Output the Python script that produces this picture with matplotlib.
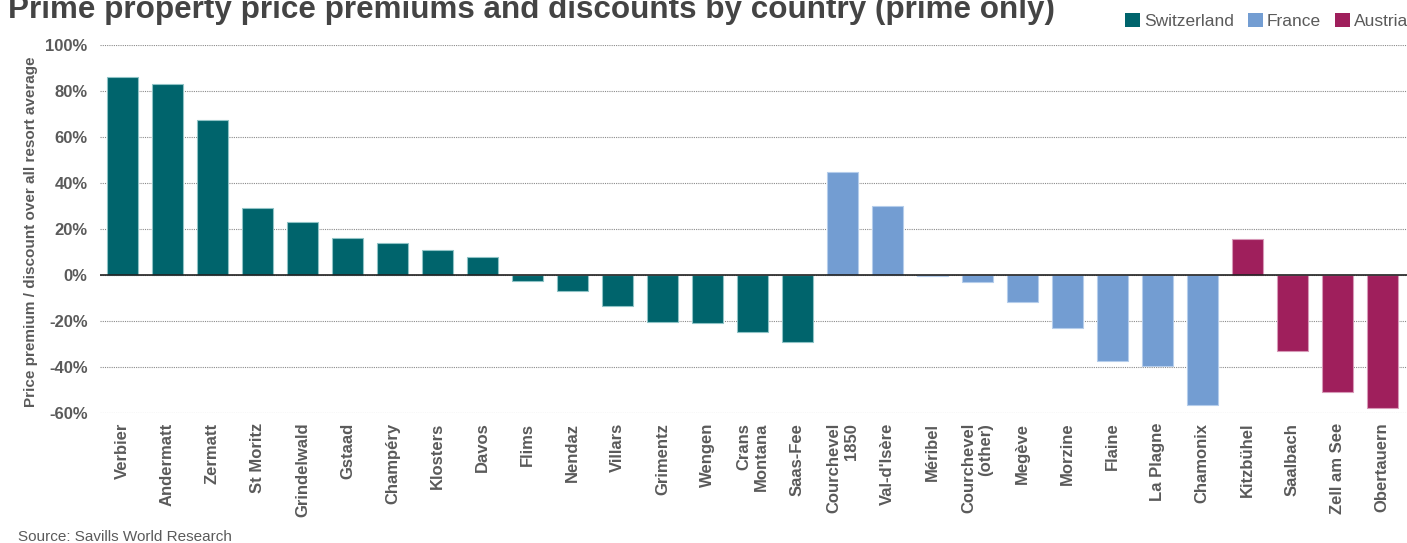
import matplotlib
matplotlib.use("Agg")
import matplotlib.pyplot as plt
from matplotlib.patches import Patch
import numpy as np

plt.rcParams['font.family'] = ['Liberation Sans', 'DejaVu Sans']

title = "Prime property price premiums and discounts by country (prime only)"
ylabel = "Price premium / discount over all resort average"
source = "Source: Savills World Research"

switzerland = ["Verbier", "Andermatt", "Zermatt", "St Moritz", "Grindelwald", "Gstaad",
               "Champéry", "Klosters", "Davos", "Flims", "Nendaz", "Villars", "Grimentz",
               "Wengen", "Crans\nMontana", "Saas-Fee"]
switzerland_vals = [86, 83, 67.5, 29, 23, 16, 14, 11, 8, -2.5, -7, -13.5, -20.3, -21, -24.8, -29]

france = ["Courchevel\n1850", "Val-d'Isère", "Méribel", "Courchevel\n(other)", "Megève",
          "Morzine", "Flaine", "La Plagne", "Chamonix"]
france_vals = [45, 29.8, -0.5, -3, -11.7, -23, -37.5, -39.5, -56.5]

austria = ["Kitzbühel", "Saalbach", "Zell am See", "Obertauern"]
austria_vals = [15.5, -33, -51, -58]

yticks = [-60, -40, -20, 0, 20, 40, 60, 80, 100]

colors = {"Switzerland": "#00646C", "France": "#739DD2", "Austria": "#9F1F5C"}
edges = {"Switzerland": "#8FC3C6", "France": "#B5CDEB", "Austria": "#D79AB8"}

groups = [("Switzerland", switzerland, switzerland_vals),
          ("France", france, france_vals),
          ("Austria", austria, austria_vals)]

fig = plt.figure(figsize=(14.07, 5.43), dpi=100)
ax = fig.add_axes([100/1407, 1-413/543, 1-100/1407, (413-45)/543])

labels_all = []
pos = 0
for name, labs, vals in groups:
    x = np.arange(pos, pos + len(labs))
    ax.bar(x, vals, width=0.68, color=colors[name], edgecolor=edges[name],
           linewidth=0.8, zorder=3)
    labels_all += labs
    pos += len(labs)

ax.set_xlim(-0.5, len(labels_all) - 0.45)
ax.set_ylim(-60, 100)
ax.set_yticks(yticks)
ax.set_yticklabels([f"{v}%" for v in yticks])
ax.set_xticks(np.arange(len(labels_all)))
ax.set_xticklabels(labels_all, rotation=90, ha='center', va='top', multialignment='right',
                   fontweight='bold', fontsize=12, color='#5a5a5a')
for s in ax.spines.values():
    s.set_visible(False)
ax.tick_params(axis='x', length=0, pad=7)
ax.tick_params(axis='y', length=0, pad=9, labelsize=12, labelcolor='#5a5a5a')
for t in ax.get_yticklabels():
    t.set_fontweight('bold')
ax.yaxis.grid(True, linestyle=(0, (1, 1)), color='#8a8a8a', linewidth=0.8, zorder=0)
ax.axhline(0, color='#222222', linewidth=1.2, zorder=4)

fig.text(31/1407, 1-232/543, ylabel, rotation=90, ha='center', va='center',
         fontsize=11, fontweight='bold', color='#5a5a5a')
fig.text(8/1407, 1-18/543, title, ha='left', va='baseline', fontsize=22.6,
         fontweight='bold', color='#444444')
fig.text(18/1407, 1-541/543, source, ha='left', va='baseline', fontsize=11, color='#5a5a5a')

handles = [Patch(facecolor=colors[n], edgecolor='none', label=n) for n, _, _ in groups]
fig.legend(handles=handles, loc='center right', bbox_to_anchor=(1.012, 1-21/543), ncol=3,
           frameon=False, handlelength=0.85, handleheight=0.85, handletextpad=0.25,
           columnspacing=0.8, prop={'size': 12.5}, labelcolor='#5a5a5a')

fig.savefig("out.png", dpi=100)
